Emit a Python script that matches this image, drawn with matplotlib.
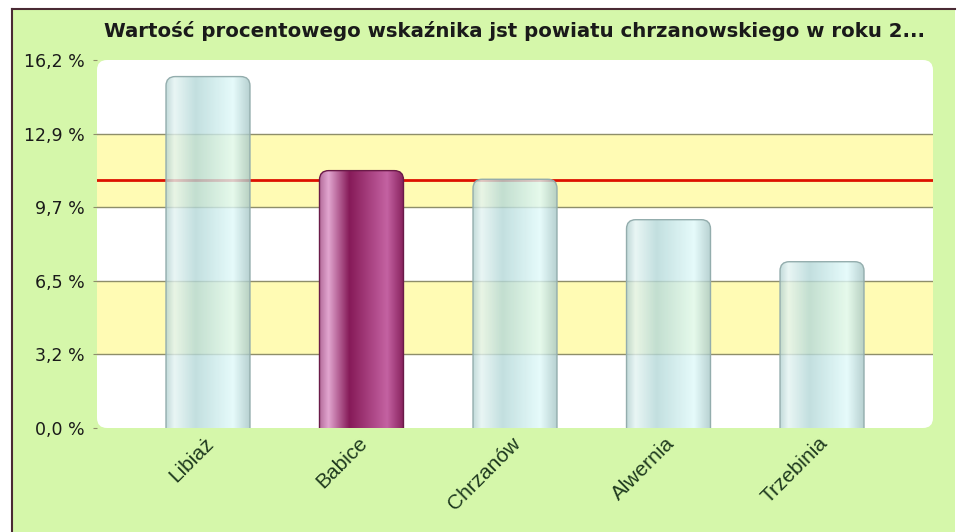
import numpy as np
import matplotlib
matplotlib.use("Agg")
import matplotlib.pyplot as plt
import matplotlib.patches as mpatches
import matplotlib.transforms as mtransforms
from matplotlib.colors import LinearSegmentedColormap

# data
gminy = ["Libiaż", "Babice", "Chrzanów", "Alwernia", "Trzebinia"]
wartosci = [15.47, 11.33, 10.95, 9.17, 7.32]
srednia_powiatu = 10.93
y_max = 16.2
tick_vals = [0.0, 3.24, 6.48, 9.72, 12.96, 16.2]
tick_labels = ["0,0 %", "3,2 %", "6,5 %", "9,7 %", "12,9 %", "16,2 %"]
highlight = "Babice"
title = "Wartość procentowego wskaźnika jst powiatu chrzanowskiego w roku 2..."

BG = "#d5f7aa"
YELLOW = "#fffbb4"
GRID = "#8e8e6a"

light_cmap = LinearSegmentedColormap.from_list(
    "light", [(0.0, "#b4d2d2"), (0.1, "#e4f4f2"), (0.35, "#b4d8d8"),
              (0.8, "#e0fafa"), (1.0, "#a6c6c6")])
dark_cmap = LinearSegmentedColormap.from_list(
    "dark", [(0.0, "#b8709f"), (0.1, "#e2a6d0"), (0.35, "#861a58"),
             (0.8, "#c462a2"), (1.0, "#86205c")])

fig = plt.figure(figsize=(9.57, 5.32), dpi=100)
fig.patch.set_facecolor("white")

# green panel with dark frame on top/left
W, H = 957, 532
panel = mpatches.Rectangle((12 / W, 0), (955 - 12) / W, (H - 9) / H,
                           transform=fig.transFigure, facecolor=BG,
                           edgecolor="none", zorder=-5)
fig.patches.append(panel)
fig.add_artist(plt.Line2D([12 / W, 955 / W], [(H - 9) / H] * 2,
                          color="#4a2a34", lw=1.5, transform=fig.transFigure, zorder=-4))
fig.add_artist(plt.Line2D([12 / W] * 2, [0, (H - 9) / H],
                          color="#4a2a34", lw=1.5, transform=fig.transFigure, zorder=-4))

ax = fig.add_axes([97 / W, (H - 428) / H, (933 - 97) / W, (428 - 60) / H])
ax.set_facecolor("none")
n = len(gminy)
x = np.arange(n)
ax.set_xlim(-0.723, n - 1 + 0.723)
ax.set_ylim(0, y_max)

# white plot area with rounded corners
bg_area = mpatches.FancyBboxPatch((0, 0), 1, 1, boxstyle="round,pad=0,rounding_size=0.012",
                                  transform=ax.transAxes, facecolor="white",
                                  edgecolor="none", zorder=0, mutation_aspect=836 / 368)
ax.add_patch(bg_area)
ax.axhspan(tick_vals[1], tick_vals[2], color=YELLOW, zorder=0.5, lw=0)
ax.axhspan(tick_vals[3], tick_vals[4], color=YELLOW, zorder=0.5, lw=0)
for v in tick_vals[1:5]:
    ax.axhline(v, color=GRID, lw=1, zorder=1)

ax.axhline(srednia_powiatu, color="#dd1100", lw=2, zorder=1.5)

# bars: plain bars for geometry, gradient clipped to rounded shape
bar_w = 0.547
bars = ax.bar(x, wartosci, width=bar_w, color="none", edgecolor="none", zorder=2)
px_per_x = 836 / (n - 1 + 2 * 0.723)
px_per_y = 368 / y_max
grad = np.linspace(0, 1, 256).reshape(1, -1)
for rect, name in zip(bars, gminy):
    x0, w, h = rect.get_x(), rect.get_width(), rect.get_height()
    shape = mpatches.FancyBboxPatch((x0, -1), w, h + 1,
                                    boxstyle="round,pad=0,rounding_size=0.06",
                                    mutation_aspect=px_per_x / px_per_y,
                                    facecolor="none", edgecolor="#93adad" if name != highlight else "#6a1a48",
                                    lw=1, zorder=3.5)
    ax.add_patch(shape)
    cmap = dark_cmap if name == highlight else light_cmap
    alpha = 1.0 if name == highlight else 0.8
    im = ax.imshow(grad, cmap=cmap, extent=(x0, x0 + w, 0, h), aspect="auto",
                   zorder=3, alpha=alpha, interpolation="bilinear")
    im.set_clip_path(shape)

ax.set_xlim(-0.723, n - 1 + 0.723)
ax.set_ylim(0, y_max)

ax.set_yticks(tick_vals)
ax.set_yticklabels(tick_labels, fontsize=12.5, color="#1a1a1a", family="DejaVu Sans")
ax.tick_params(axis="y", length=3, color=GRID, pad=6)
ax.set_xticks(x)
ax.set_xticklabels(gminy, rotation=45, ha="right", rotation_mode="anchor",
                   fontsize=15, color="#1f3a1f", family="Liberation Sans")
ax.tick_params(axis="x", length=0, pad=4)
shift = mtransforms.ScaledTranslation(-4 / 100, 0, fig.dpi_scale_trans)
for lbl in ax.get_xticklabels():
    lbl.set_transform(lbl.get_transform() + shift)
for s in ax.spines.values():
    s.set_visible(False)

fig.text(514 / W, 1 - 31 / H, title, ha="center", va="center",
         fontsize=14.2, fontweight="bold", color="#1a1a1a", family="DejaVu Sans")

fig.savefig("out.png", dpi=100, facecolor=fig.get_facecolor())
